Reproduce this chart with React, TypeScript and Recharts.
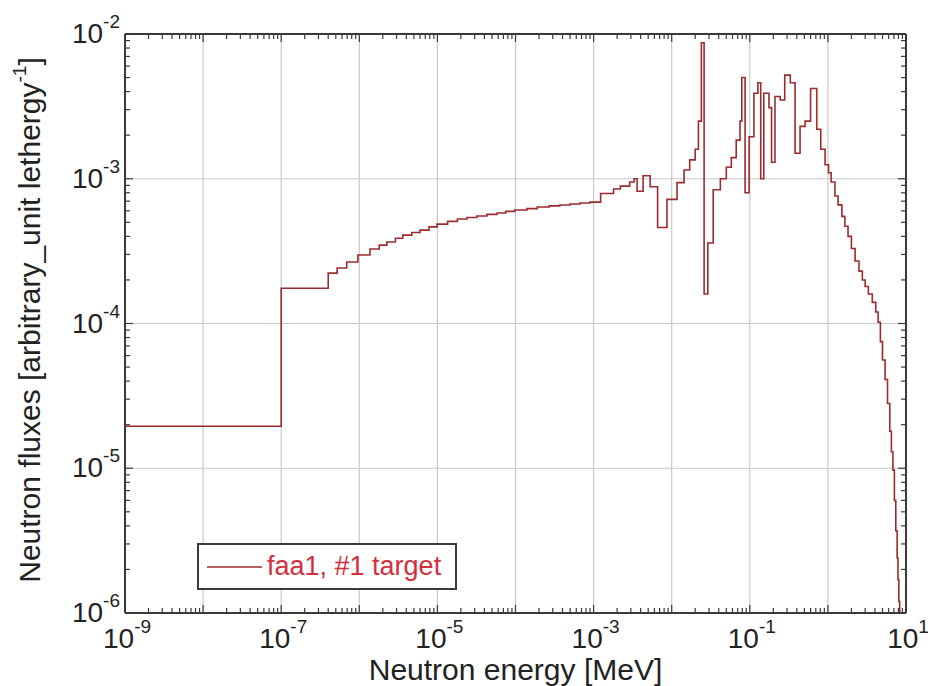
import { CartesianGrid, Legend, Line, LineChart, XAxis, YAxis } from 'recharts'

// group-wise spectrum: lower bin edge [MeV] and flux per unit lethargy
const energy = [
  1e-9, 1e-7, 4e-7, 5.2e-7, 6.9e-7, 9.6e-7, 1.37e-6, 1.8e-6, 2.25e-6, 2.9e-6, 3.6e-6, 4.7e-6, 6e-6,
  7.8e-6, 9.9e-6, 1.35e-5, 1.8e-5, 2.4e-5, 3.2e-5, 4.3e-5, 5.8e-5, 7.5e-5, 9.8e-5, 1.4e-4, 1.9e-4,
  2.7e-4, 3.7e-4, 5e-4, 6.7e-4, 9e-4, 1.23e-3, 1.8e-3, 2.2e-3, 2.9e-3, 3.3e-3, 3.6e-3, 4.3e-3,
  5.3e-3, 6.6e-3, 8.7e-3, 1.17e-2, 1.44e-2, 1.7e-2, 2.0e-2, 2.2e-2, 2.4e-2, 2.6e-2, 2.9e-2, 3.4e-2,
  4.2e-2, 5.0e-2, 5.8e-2, 6.7e-2, 7.5e-2, 7.9e-2, 8.7e-2, 9.8e-2, 0.113, 0.127, 0.138, 0.151, 0.176,
  0.19, 0.21, 0.245, 0.28, 0.33, 0.38, 0.44, 0.51, 0.6, 0.72, 0.81, 0.92, 1.02, 1.1, 1.23, 1.35, 1.51,
  1.65, 1.81, 2.0, 2.23, 2.5, 2.76, 3.0, 3.3, 3.7, 4.1, 4.4, 4.7, 5.0, 5.4, 5.8, 6.2, 6.5, 6.8, 7.1,
  7.4, 7.7, 7.9, 8.1, 8.3,
]
const flux = [
  1.95e-5, 1.75e-4, 2.23e-4, 2.42e-4, 2.66e-4, 2.97e-4, 3.27e-4, 3.48e-4, 3.66e-4, 3.88e-4, 4.08e-4,
  4.25e-4, 4.42e-4, 4.65e-4, 4.86e-4, 5.08e-4, 5.27e-4, 5.4e-4, 5.53e-4, 5.67e-4, 5.8e-4, 5.95e-4,
  6.08e-4, 6.22e-4, 6.38e-4, 6.5e-4, 6.59e-4, 6.7e-4, 6.8e-4, 6.9e-4, 7.9e-4, 8.5e-4, 8.9e-4,
  9.5e-4, 1.0e-3, 8.2e-4, 1.05e-3, 8.8e-4, 4.6e-4, 7.2e-4, 9.4e-4, 1.15e-3, 1.35e-3, 1.6e-3,
  2.5e-3, 8.7e-3, 1.6e-4, 3.6e-4, 8.4e-4, 1.0e-3, 1.2e-3, 1.4e-3, 1.85e-3, 2.5e-3, 5.0e-3, 8.0e-4,
  1.95e-3, 3.9e-3, 4.6e-3, 1.0e-3, 3.9e-3, 3.1e-3, 1.3e-3, 3.7e-3, 3.5e-3, 5.2e-3, 4.6e-3, 1.5e-3,
  2.3e-3, 2.5e-3, 4.2e-3, 2.2e-3, 1.6e-3, 1.25e-3, 1.1e-3, 9.5e-4, 7.6e-4, 6.6e-4, 5.5e-4, 4.7e-4,
  4.0e-4, 3.3e-4, 2.7e-4, 2.3e-4, 2.0e-4, 1.8e-4, 1.6e-4, 1.4e-4, 1.2e-4, 1.02e-4, 7.5e-5, 5.6e-5,
  4.1e-5, 2.8e-5, 1.8e-5, 1.3e-5, 9.7e-6, 6e-6, 3.7e-6, 2.4e-6, 1.7e-6, 1.2e-6, 8e-7,
]

const xDecades = [-9, -8, -7, -6, -5, -4, -3, -2, -1, 0, 1]
const yDecades = [-6, -5, -4, -3, -2]
const xLabelExps = [-9, -7, -5, -3, -1, 1]
const yLabelExps = [-6, -5, -4, -3, -2]
const seriesName = 'faa1, #1 target'

const rows = energy.map((e, i) => ({ e, flux: flux[i] }))

const FONT = '"Liberation Sans", Arial, Helvetica, sans-serif'
const LINE = '#9c2b2e'
const AXIS = '#3a3a3a'

const pow = (m: number, d: number) => Number((m * Math.pow(10, d)).toPrecision(3))

// decade ticks plus the 2..9 minor ticks in between
function logTicks(decades: number[]) {
  const out: number[] = []
  decades.forEach((d, i) => {
    out.push(pow(1, d))
    if (i < decades.length - 1) for (let m = 2; m <= 9; m++) out.push(pow(m, d))
  })
  return out
}

const xTicks = logTicks(xDecades)
const yTicks = logTicks(yDecades)
const xGrid = xDecades.map((d) => pow(1, d))
const yGrid = yDecades.map((d) => pow(1, d))

type TickProps = { x: number; y: number; payload: { value: number }; side: string }

function Power({ x, y, exp, anchor }: { x: number; y: number; exp: number; anchor: string }) {
  return (
    <text x={x} y={y} textAnchor={anchor} fill="#222" fontSize={28} fontFamily={FONT}>
      10
      <tspan fontSize={19} dy={-15}>
        {exp}
      </tspan>
    </text>
  )
}

function LogTick({ x, y, payload, side }: TickProps) {
  const lg = Math.log10(payload.value)
  const exp = Math.round(lg)
  const major = Math.abs(lg - exp) < 1e-6
  const len = major ? 8 : 5
  let line
  if (side === 'bottom') line = <line x1={x} y1={y} x2={x} y2={y - len} />
  else if (side === 'top') line = <line x1={x} y1={y} x2={x} y2={y + len} />
  else if (side === 'left') line = <line x1={x} y1={y} x2={x + len} y2={y} />
  else line = <line x1={x} y1={y} x2={x - len} y2={y} />

  let label = null
  if (major && side === 'bottom' && xLabelExps.includes(exp)) {
    label = <Power x={x + 2} y={y + 35} exp={exp} anchor="middle" />
  }
  if (major && side === 'left' && yLabelExps.includes(exp)) {
    label = <Power x={x - 5} y={y + 9} exp={exp} anchor="end" />
  }
  return (
    <g>
      <g stroke={AXIS} strokeWidth={1.2}>{line}</g>
      {label}
    </g>
  )
}

function LegendBox() {
  return (
    <div
      style={{
        width: 256,
        height: 43,
        border: `2px solid ${AXIS}`,
        background: '#fff',
        display: 'flex',
        alignItems: 'center',
        fontFamily: FONT,
      }}
    >
      <svg width={66} height={20} style={{ flex: 'none' }}>
        <line x1={8} y1={10} x2={63} y2={10} stroke={LINE} strokeWidth={1.6} />
      </svg>
      <span style={{ color: '#d2303d', fontSize: 27, marginLeft: 2, whiteSpace: 'nowrap' }}>{seriesName}</span>
    </div>
  )
}

function YTitle() {
  return (
    <text
      x={40}
      y={320}
      transform="rotate(-90 40 320)"
      textAnchor="middle"
      fill="#222"
      fontSize={30}
      fontFamily={FONT}
    >
      Neutron fluxes [arbitrary_unit  lethergy
      <tspan fontSize={19} dy={-14}>
        -1
      </tspan>
      <tspan dy={14}>]</tspan>
    </text>
  )
}

export default function App() {
  return (
    <div style={{ position: 'absolute', left: 0, top: 0, width: 928, height: 686, overflow: 'hidden', background: '#fff' }}>
      <LineChart width={928} height={686} data={rows} margin={{ top: 32, right: 20, bottom: 3, left: 18 }}>
        <CartesianGrid
          xAxisId="bottom"
          yAxisId="left"
          stroke="#c9c9c9"
          strokeWidth={1.2}
          verticalValues={xGrid}
          horizontalValues={yGrid}
        />
        <XAxis
          xAxisId="bottom"
          dataKey="e"
          type="number"
          scale="log"
          domain={[1e-9, 10]}
          allowDataOverflow
          ticks={xTicks}
          interval={0}
          height={70}
          tickSize={0}
          tickMargin={0}
          stroke={AXIS}
          strokeWidth={2}
          tick={(p: any) => <LogTick {...p} side="bottom" />}
          label={{
            value: 'Neutron energy [MeV]',
            position: 'insideBottom',
            offset: 3,
            fill: '#222',
            fontSize: 30,
            fontFamily: FONT,
          }}
        />
        <XAxis
          xAxisId="top"
          orientation="top"
          dataKey="e"
          type="number"
          scale="log"
          domain={[1e-9, 10]}
          allowDataOverflow
          ticks={xTicks}
          interval={0}
          height={2}
          tickSize={0}
          tickMargin={0}
          stroke={AXIS}
          strokeWidth={2}
          tick={(p: any) => <LogTick {...p} side="top" />}
        />
        <YAxis
          yAxisId="left"
          type="number"
          scale="log"
          domain={[1e-6, 1e-2]}
          allowDataOverflow
          ticks={yTicks}
          interval={0}
          width={107}
          tickSize={0}
          tickMargin={0}
          stroke={AXIS}
          strokeWidth={2}
          tick={(p: any) => <LogTick {...p} side="left" />}
          label={{ content: () => <YTitle /> }}
        />
        <YAxis
          yAxisId="right"
          orientation="right"
          type="number"
          scale="log"
          domain={[1e-6, 1e-2]}
          allowDataOverflow
          ticks={yTicks}
          interval={0}
          width={2}
          tickSize={0}
          tickMargin={0}
          stroke={AXIS}
          strokeWidth={2}
          tick={(p: any) => <LogTick {...p} side="right" />}
        />
        <Legend
          layout="horizontal"
          align="center"
          verticalAlign="middle"
          wrapperStyle={{ left: 197, top: 543, width: 'auto' }}
          content={() => <LegendBox />}
        />
        <Line
          xAxisId="bottom"
          yAxisId="left"
          type="stepAfter"
          dataKey="flux"
          name={seriesName}
          stroke={LINE}
          strokeWidth={1.6}
          dot={false}
          activeDot={false}
          isAnimationActive={false}
        />
      </LineChart>
    </div>
  )
}
